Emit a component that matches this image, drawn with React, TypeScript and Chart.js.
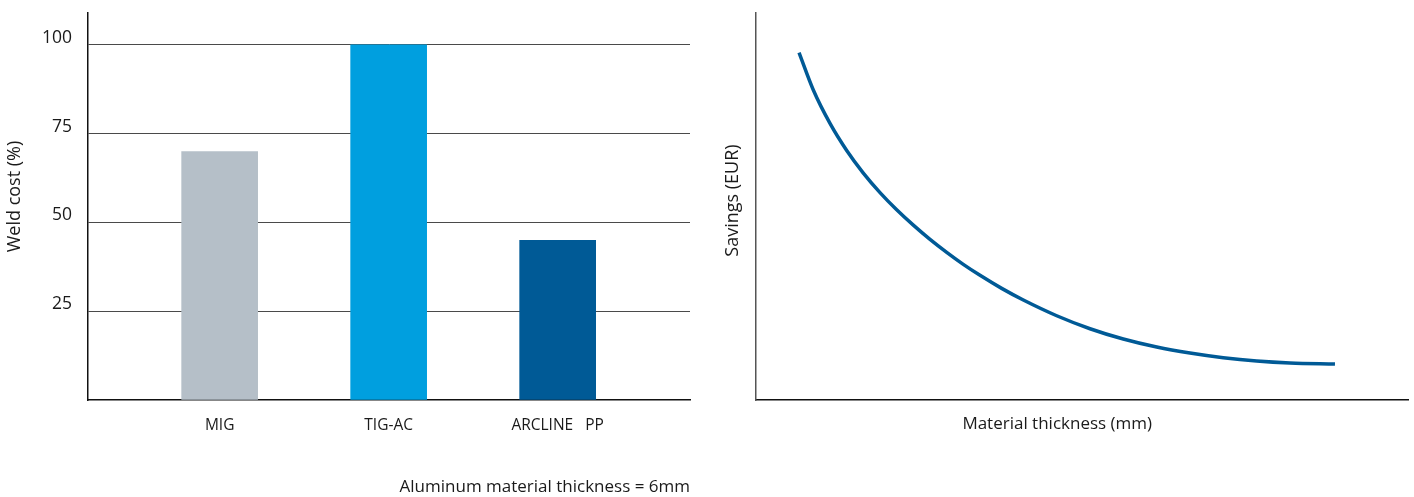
import React, { useEffect, useRef } from "react";
import { Chart, registerables } from "chart.js";

Chart.register(...registerables);

// Left chart data
const processes = ["MIG", "TIG-AC", "ARCLINE   PP"];
const weldCost = [70, 100, 45];
const barColors = ["#b5bfc8", "#009fdf", "#005a96"];
const costTicks = [0, 25, 50, 75, 100];

// Right chart data (arbitrary units)
const thickness = [6.6, 8.79, 11.35, 13.91, 16.46, 19.02, 21.58, 24.13, 26.69, 29.25, 31.79, 34.36, 37.68, 41.0, 46.12, 51.23, 56.33, 61.46, 66.56, 71.67, 76.79, 81.9, 88.8];
const savings = [89.75, 80.1, 71.47, 64.48, 58.64, 53.6, 49.16, 45.18, 41.51, 38.15, 35.05, 32.21, 28.84, 25.83, 21.77, 18.41, 15.75, 13.68, 12.13, 10.92, 10.06, 9.55, 9.29];

const FONT = "'Open Sans', 'Noto Sans', sans-serif";
const TEXT = "#1a1a1a";

// draws a rotated y-axis title, centred at a given offset from the chart area
function yTitlePlugin(id: string, text: string, dx: number, dy: number, size: number) {
  return {
    id,
    afterDraw(chart: any) {
      const { ctx, chartArea } = chart;
      ctx.save();
      ctx.translate(chartArea.left - dx, (chartArea.top + chartArea.bottom) / 2 + dy);
      ctx.rotate(-Math.PI / 2);
      ctx.font = `${size}px ${FONT}`;
      ctx.fillStyle = TEXT;
      ctx.textAlign = "center";
      ctx.textBaseline = "middle";
      ctx.fillText(text, 0, 0);
      ctx.restore();
    },
  };
}

function LeftChart() {
  const ref = useRef<HTMLCanvasElement>(null);
  useEffect(() => {
    const chart = new Chart(ref.current!, {
      type: "bar",
      data: {
        datasets: [
          {
            data: weldCost.map((v, i) => ({ x: i + 1, y: v })),
            backgroundColor: barColors,
            barThickness: 76,
            borderWidth: 0,
          },
        ],
      },
      options: {
        animation: false,
        responsive: false,
        devicePixelRatio: 1,
        layout: { padding: { left: 0, top: 13, right: 10, bottom: 0 } },
        plugins: { legend: { display: false }, tooltip: { enabled: false } },
        scales: {
          x: {
            type: "linear",
            offset: false,
            min: 0.221,
            max: 3.783,
            grid: { display: false, drawTicks: false, offset: false },
            border: { display: true, color: "#111", width: 1.5 },
            afterBuildTicks: (s: any) => {
              s.ticks = processes.map((_, i) => ({ value: i + 1 }));
            },
            ticks: {
              padding: 16,
              color: TEXT,
              maxRotation: 0,
              autoSkip: false,
              font: { family: FONT, size: 15.5 },
              callback: (v: any) => processes[Math.round(v) - 1] ?? "",
            },
            title: {
              display: true,
              text: "Aluminum material thickness = 6mm",
              align: "end",
              color: TEXT,
              font: { family: FONT, size: 17 },
              padding: { top: 0, bottom: 0 },
            },
            afterFit: (s: any) => {
              s.height = 97;
              s.paddingLeft = 0;
              s.paddingRight = 0;
            },
          },
          y: {
            min: 0,
            max: 109,
            afterBuildTicks: (s: any) => {
              s.ticks = costTicks.map((v) => ({ value: v }));
            },
            grid: {
              drawTicks: false,
              color: (c: any) => (c.tick && c.tick.value > 0 ? "#4a4a4a" : "rgba(0,0,0,0)"),
              lineWidth: 1,
            },
            border: { display: true, color: "#111", width: 1.5 },
            ticks: {
              padding: 16,
              labelOffset: -7,
              color: TEXT,
              font: { family: FONT, size: 17.5 },
              callback: (v: any) => (v === 0 ? "" : String(v)),
            },
            title: { display: false },
            afterFit: (s: any) => {
              s.width = 88;
              s.paddingTop = 0;
              s.paddingBottom = 0;
            },
          },
        },
      },
      plugins: [yTitlePlugin("yTitleLeft", "Weld cost (%)", 73, -10, 18)],
    });
    return () => chart.destroy();
  }, []);
  return <canvas ref={ref} width={700} height={497} style={{ position: "absolute", left: 0, top: 0 }} />;
}

const xTitlePlugin = {
  id: "xTitleRight",
  afterDraw(chart: any) {
    const { ctx, chartArea } = chart;
    ctx.save();
    ctx.font = `17px ${FONT}`;
    ctx.fillStyle = TEXT;
    ctx.textAlign = "center";
    ctx.textBaseline = "middle";
    ctx.fillText("Material thickness (mm)", chartArea.left + chartArea.width * 0.462, chartArea.bottom + 24);
    ctx.restore();
  },
};

function RightChart() {
  const ref = useRef<HTMLCanvasElement>(null);
  useEffect(() => {
    const chart = new Chart(ref.current!, {
      type: "line",
      data: {
        datasets: [
          {
            data: thickness.map((x, i) => ({ x, y: savings[i] })),
            borderColor: "#005a96",
            borderWidth: 3.5,
            pointRadius: 0,
            cubicInterpolationMode: "monotone",
            fill: false,
          },
        ],
      },
      options: {
        animation: false,
        responsive: false,
        devicePixelRatio: 1,
        layout: { padding: { left: 0, top: 13, right: 6, bottom: 0 } },
        plugins: { legend: { display: false }, tooltip: { enabled: false } },
        scales: {
          x: {
            type: "linear",
            min: 0,
            max: 100,
            grid: { display: false, drawTicks: false },
            border: { display: true, color: "#111", width: 1.5 },
            ticks: { display: false },
            title: { display: false },
            afterFit: (s: any) => {
              s.height = 97;
              s.paddingLeft = 0;
              s.paddingRight = 0;
            },
          },
          y: {
            min: 0,
            max: 100,
            grid: { display: false, drawTicks: false },
            border: { display: true, color: "#555", width: 1.5 },
            ticks: { display: false },
            title: { display: false },
            afterFit: (s: any) => {
              s.width = 56;
              s.paddingTop = 0;
              s.paddingBottom = 0;
            },
          },
        },
      },
      plugins: [xTitlePlugin, yTitlePlugin("yTitleRight", "Savings (EUR)", 23, -6, 18)],
    });
    return () => chart.destroy();
  }, []);
  return <canvas ref={ref} width={714} height={497} style={{ position: "absolute", left: 700, top: 0 }} />;
}

export default function App() {
  return (
    <div style={{ position: "absolute", left: 0, top: 0, width: 1414, height: 497, background: "#fff" }}>
      <LeftChart />
      <RightChart />
    </div>
  );
}
